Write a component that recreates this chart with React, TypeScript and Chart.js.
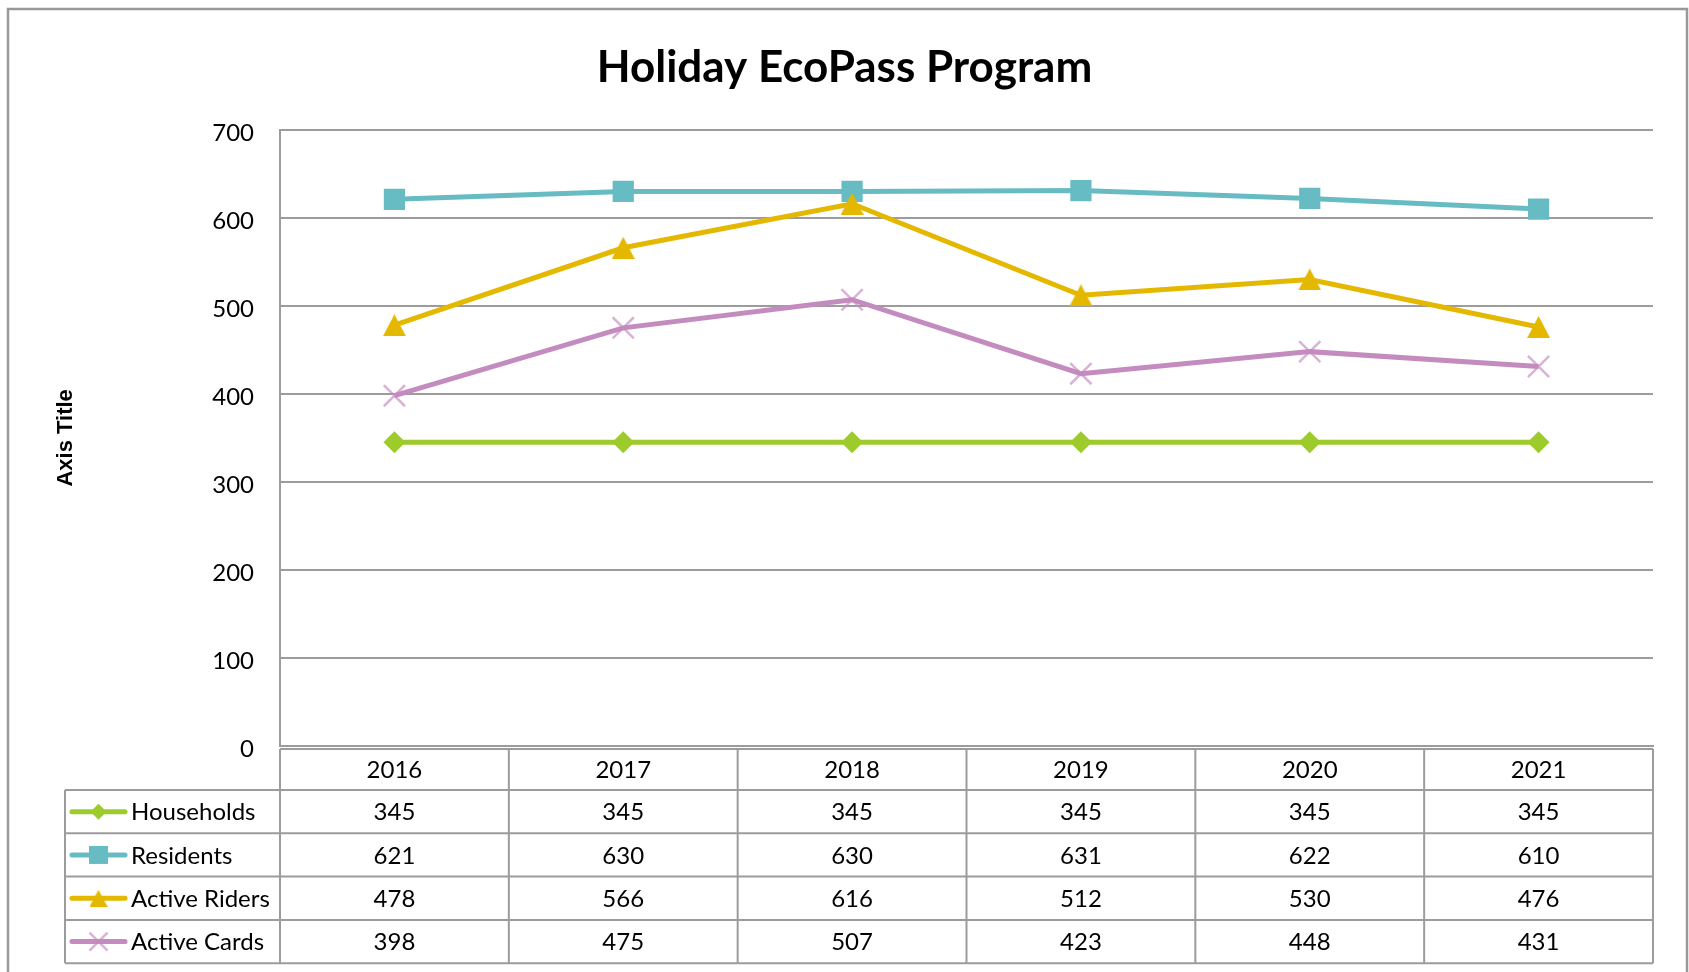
import React, { useEffect, useRef } from 'react';
import { Chart, registerables } from 'chart.js';

Chart.register(...registerables);

const years = ['2016', '2017', '2018', '2019', '2020', '2021'];
const households = [345, 345, 345, 345, 345, 345];
const residents = [621, 630, 630, 631, 622, 610];
const activeRiders = [478, 566, 616, 512, 530, 476];
const activeCards = [398, 475, 507, 423, 448, 431];
const seriesNames = ['Households', 'Residents', 'Active Riders', 'Active Cards'];
const yMin = 0;
const yMax = 700;
const yStep = 100;

const GREEN = '#9DCB2C';
const TEAL = '#67BCC4';
const GOLD = '#E5B800';
const LAVENDER = '#C48BBF';
const GRID = '#9c9c9c';
const FONT = 'Lato, "Open Sans", sans-serif';

function makeTriangle(color: string, w: number, h: number): HTMLCanvasElement {
  const c = document.createElement('canvas');
  c.width = w;
  c.height = h;
  const g = c.getContext('2d')!;
  g.fillStyle = color;
  g.beginPath();
  g.moveTo(w / 2, 0);
  g.lineTo(w, h);
  g.lineTo(0, h);
  g.closePath();
  g.fill();
  return c;
}

export default function App() {
  const ref = useRef<HTMLCanvasElement | null>(null);

  useEffect(() => {
    if (!ref.current) return;
    const tri = makeTriangle(GOLD, 23, 22);
    const triSmall = makeTriangle(GOLD, 18, 17);
    const seriesValues = [households, residents, activeRiders, activeCards];
    const seriesColors = [GREEN, TEAL, GOLD, LAVENDER];

    const tablePlugin = {
      id: 'dataTable',
      afterDraw(chart: any) {
        const { ctx, chartArea, scales } = chart;
        const xs = scales.x;
        const left = chartArea.left;
        const right = chartArea.right;
        const step = (right - left) / years.length;
        const headTop = chartArea.bottom + 3;
        const headBottom = chartArea.bottom + 44;
        const rowH = 43.3;
        const tableBottom = headBottom + rowH * seriesNames.length;
        const tableLeft = 65;
        ctx.save();
        ctx.strokeStyle = GRID;
        ctx.lineWidth = 2;
        ctx.beginPath();
        ctx.moveTo(left, headTop);
        ctx.lineTo(right, headTop);
        for (let r = 0; r <= seriesNames.length; r++) {
          const y = headBottom + r * rowH;
          ctx.moveTo(tableLeft, y);
          ctx.lineTo(right, y);
        }
        for (let i = 0; i <= years.length; i++) {
          const x = left + i * step;
          ctx.moveTo(x, headTop);
          ctx.lineTo(x, tableBottom);
        }
        ctx.moveTo(tableLeft, headBottom);
        ctx.lineTo(tableLeft, tableBottom);
        ctx.stroke();

        // outer chart border
        ctx.strokeStyle = '#999999';
        ctx.lineWidth = 2.5;
        ctx.strokeRect(8, 9, 1679, 1200);

        ctx.font = `24px ${FONT}`;
        ctx.fillStyle = '#000';
        ctx.textBaseline = 'middle';
        for (let s = 0; s < seriesNames.length; s++) {
          const cy = headBottom + s * rowH + rowH / 2 + 1;
          ctx.textAlign = 'center';
          seriesValues[s].forEach((v, i) => {
            ctx.fillText(String(v), xs.getPixelForValue(i), cy);
          });
          // legend key
          const col = seriesColors[s];
          ctx.strokeStyle = col;
          ctx.lineWidth = 5;
          ctx.lineCap = 'round';
          ctx.beginPath();
          ctx.moveTo(72, cy - 1);
          ctx.lineTo(125, cy - 1);
          ctx.stroke();
          const mx = 98.5;
          const my = cy - 1;
          ctx.fillStyle = col;
          if (s === 0) {
            ctx.beginPath();
            ctx.moveTo(mx - 8, my);
            ctx.lineTo(mx, my - 8);
            ctx.lineTo(mx + 8, my);
            ctx.lineTo(mx, my + 8);
            ctx.closePath();
            ctx.fill();
          } else if (s === 1) {
            ctx.fillRect(mx - 9.5, my - 9, 19, 18);
          } else if (s === 2) {
            ctx.drawImage(triSmall, mx - 9, my - 8.5);
          } else {
            ctx.strokeStyle = 'rgba(196,139,191,0.65)';
            ctx.lineWidth = 2.5;
            ctx.lineCap = 'butt';
            ctx.beginPath();
            ctx.moveTo(mx - 9, my - 9);
            ctx.lineTo(mx + 9, my + 9);
            ctx.moveTo(mx + 9, my - 9);
            ctx.lineTo(mx - 9, my + 9);
            ctx.stroke();
          }
          ctx.fillStyle = '#000';
          ctx.textAlign = 'left';
          ctx.fillText(seriesNames[s], 131, cy);
        }
        ctx.restore();
      },
    };

    const chart = new Chart(ref.current, {
      type: 'line',
      data: {
        labels: years,
        datasets: [
          {
            label: seriesNames[0],
            data: households,
            borderColor: GREEN,
            backgroundColor: GREEN,
            borderWidth: 5,
            pointStyle: 'rectRot',
            pointRadius: 11,
            pointBorderWidth: 0,
            pointBackgroundColor: GREEN,
            order: 3,
          },
          {
            label: seriesNames[1],
            data: residents,
            borderColor: TEAL,
            backgroundColor: TEAL,
            borderWidth: 5,
            pointStyle: 'rect',
            pointRadius: 15,
            pointBorderWidth: 0,
            pointBackgroundColor: TEAL,
            order: 2,
          },
          {
            label: seriesNames[2],
            data: activeRiders,
            borderColor: GOLD,
            backgroundColor: GOLD,
            borderWidth: 5,
            pointStyle: tri,
            pointRadius: 11,
            order: 1,
          },
          {
            label: seriesNames[3],
            data: activeCards,
            borderColor: LAVENDER,
            backgroundColor: LAVENDER,
            borderWidth: 5,
            pointStyle: 'crossRot',
            pointRadius: 15,
            pointBorderWidth: 2.5,
            pointBorderColor: 'rgba(196,139,191,0.65)',
            order: 0,
          },
        ],
      },
      options: {
        responsive: false,
        animation: false,
        devicePixelRatio: 1,
        layout: { padding: 0 },
        elements: { line: { tension: 0 } },
        plugins: {
          legend: { display: false },
          tooltip: { enabled: false },
          title: {
            display: true,
            text: 'Holiday EcoPass Program',
            color: '#000',
            font: { family: FONT, size: 44, weight: 'bold', lineHeight: 1.2 },
            padding: { top: 41, bottom: 36 },
          },
        },
        scales: {
          x: {
            offset: true,
            grid: { display: false, drawTicks: false },
            border: { display: true, color: GRID, width: 2 },
            ticks: {
              color: '#000',
              font: { family: FONT, size: 24 },
              padding: 10,
              maxRotation: 0,
              autoSkip: false,
            },
            afterFit: (s: any) => {
              s.height = 226;
            },
          },
          y: {
            min: yMin,
            max: yMax,
            ticks: {
              stepSize: yStep,
              color: '#000',
              font: { family: FONT, size: 24 },
              padding: 26,
              labelOffset: 3,
            },
            grid: { color: GRID, lineWidth: 2, drawTicks: false },
            border: { display: true, color: GRID, width: 2 },
            title: {
              display: true,
              text: 'Axis Title',
              color: '#000',
              font: { family: '"Liberation Sans", Arial, sans-serif', size: 22, weight: 'bold' },
              padding: { top: 53, bottom: 0 },
            },
            afterFit: (s: any) => {
              s.width = 280;
            },
          },
          yR: {
            position: 'right',
            display: true,
            grid: { display: false, drawTicks: false },
            ticks: { display: false },
            border: { display: false },
            afterFit: (s: any) => {
              s.width = 36;
            },
          },
        },
      },
      plugins: [tablePlugin],
    } as any);

    return () => chart.destroy();
  }, []);

  return (
    <div style={{ position: 'fixed', left: 0, top: 0, width: 1689, height: 972, background: '#fff' }}>
      <canvas ref={ref} width={1689} height={972} style={{ width: 1689, height: 972, display: 'block' }} />
    </div>
  );
}
